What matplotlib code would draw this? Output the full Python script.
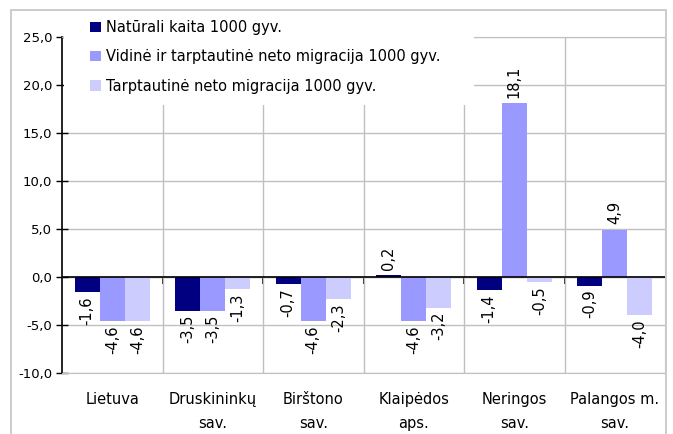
import numpy as np
import matplotlib
matplotlib.use("Agg")
import matplotlib.pyplot as plt
from matplotlib.patches import Rectangle

# data
categories = ["Lietuva", "Druskininkų\nsav.", "Birštono\nsav.", "Klaipėdos\naps.",
              "Neringos\nsav.", "Palangos m.\nsav."]
series_names = ["Natūrali kaita 1000 gyv.",
                "Vidinė ir tarptautinė neto migracija 1000 gyv.",
                "Tarptautinė neto migracija 1000 gyv."]
natural = [-1.6, -3.5, -0.7, 0.2, -1.4, -0.9]
internal_intl = [-4.6, -3.5, -4.6, -4.6, 18.1, 4.9]
intl = [-4.6, -1.3, -2.3, -3.2, -0.5, -4.0]
colors = ["#000080", "#9999FF", "#CCCCFF"]
yticks = [-10, -5, 0, 5, 10, 15, 20, 25]

plt.rcParams["font.family"] = ["DejaVu Sans"]

W, H = 673, 434
fig = plt.figure(figsize=(W / 100, H / 100), dpi=100)
ax = fig.add_axes([62 / W, 1 - 373 / H, (665 - 62) / W, (373 - 37) / H])

x = np.arange(len(categories))
bw = 0.25
grid_c = "#C0C0C0"

for i, (vals, name) in enumerate(zip([natural, internal_intl, intl], series_names)):
    pos = x + (i - 1) * bw
    bars = ax.bar(pos, vals, width=bw, color=colors[i], label=name, zorder=3)
    for b, v in zip(bars, vals):
        txt = f"{v:.1f}".replace(".", ",")
        cx = b.get_x() + b.get_width() / 2
        if v >= 0:
            ax.annotate(txt, (cx, v), xytext=(0, 4), textcoords="offset points",
                        rotation=90, ha="center", va="bottom", fontsize=10.5, zorder=4)
        else:
            ax.annotate(txt, (cx, v), xytext=(0, -3), textcoords="offset points",
                        rotation=90, ha="center", va="top", fontsize=10.5, zorder=4)

ax.set_xlim(-0.5, len(categories) - 0.5)
ax.set_ylim(-10, 25)
ax.set_yticks(yticks)
ax.set_yticklabels([f"{t:.1f}".replace(".", ",") for t in yticks], fontsize=9.5)
ax.tick_params(axis="y", direction="inout", length=8, width=1, pad=3)

# grid
for t in yticks:
    ax.axhline(t, color=grid_c, lw=1, zorder=1)
for b in np.arange(0.5, len(categories) - 0.5, 1):
    ax.axvline(b, color=grid_c, lw=1, zorder=1)
ax.axhline(0, color="black", lw=1.2, zorder=5)

# category labels
ax.set_xticks(x)
ax.set_xticklabels(categories, fontsize=10.5)
ax.tick_params(axis="x", length=0, pad=14)
for t in ax.get_xticklabels():
    t.set_linespacing(1.7)

# small ticks on the zero line
zero_loc = (0 - ax.get_ylim()[0]) / (ax.get_ylim()[1] - ax.get_ylim()[0])
sec = ax.secondary_xaxis(zero_loc)
sec.set_xticks(np.arange(0.5, len(categories) - 0.5, 1))
sec.tick_params(axis="x", direction="out", length=5, width=1.2, labelbottom=False, colors="black")
sec.spines["bottom"].set_color("black")

for s in ["top", "right", "bottom"]:
    ax.spines[s].set_color(grid_c)
ax.spines["left"].set_color("black")
ax.spines["left"].set_linewidth(1.2)

# white legend box over the grid
fig.patches.append(Rectangle((64 / W, 1 - 105 / H), (474 - 64) / W, (105 - 12) / H,
                             transform=fig.transFigure, facecolor="white",
                             edgecolor="none", zorder=4))
handles, labels = ax.get_legend_handles_labels()
leg = fig.legend(handles, labels, loc="upper left",
                 bbox_to_anchor=(90 / W, 1 - 20 / H), frameon=False, fontsize=10.5,
                 handlelength=0.75, handleheight=0.7, handletextpad=0.35,
                 labelspacing=0.98, borderpad=0, borderaxespad=0)
leg.set_zorder(5)

# outer border
fig.patches.append(Rectangle((11 / W, -0.05), (666 - 11) / W, 1 - 10 / H + 0.05,
                             transform=fig.transFigure, facecolor="none",
                             edgecolor="#C8C8C8", lw=1.3, zorder=6))

fig.savefig("out.png", dpi=100)
